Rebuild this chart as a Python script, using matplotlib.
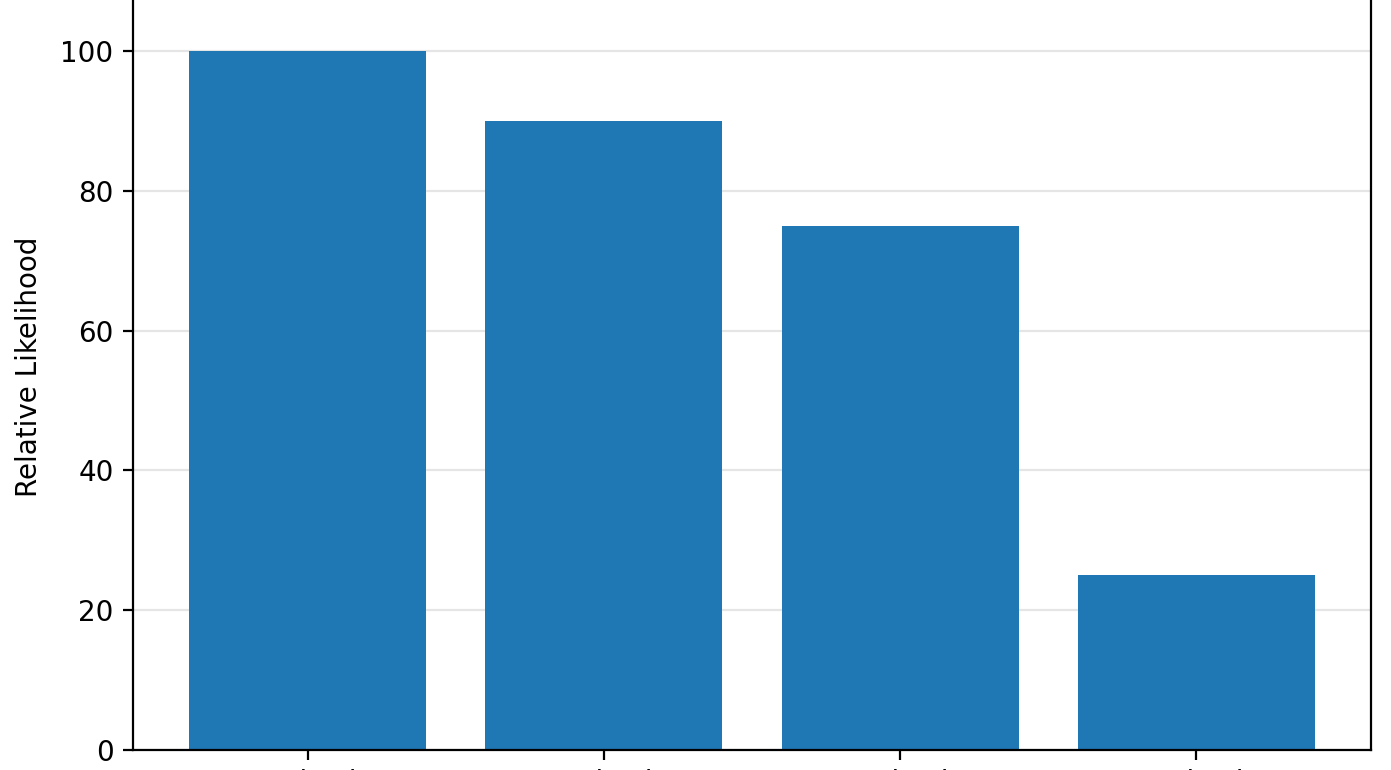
import matplotlib
matplotlib.use("Agg")
import matplotlib.pyplot as plt

categories = ["Hypothesis A", "Hypothesis B", "Hypothesis C", "Hypothesis D"]
values = [100, 90, 75, 25]
yticks = [0, 20, 40, 60, 80, 100]

W, H, DPI = 1391, 770, 200
fig = plt.figure(figsize=(W / DPI, H / DPI), dpi=DPI)

left_px, right_px, bottom_px = 133, 1371, 750
ymax = 110
px_per_unit = (750 - 51) / 100.0
height_px = ymax * px_per_unit
ax = fig.add_axes([left_px / W, (H - bottom_px) / H,
                   (right_px - left_px) / W, height_px / H])

ax.bar(range(len(categories)), values, width=0.8, color="#1f77b4", zorder=2)
ax.set_xticks(range(len(categories)))
ax.set_xticklabels(categories)
ax.set_yticks(yticks)
ax.set_ylim(0, ymax)
ax.set_xlim(-0.59, 3.59)
ax.yaxis.grid(True, color="#e5e5e5", linewidth=0.8, zorder=0)
ax.set_axisbelow(True)
ax.set_ylabel("Relative Likelihood")
ax.yaxis.set_label_coords(-(133 - 43) / (right_px - left_px), (750 - 367) / height_px)

fig.savefig("out.png", dpi=DPI)
